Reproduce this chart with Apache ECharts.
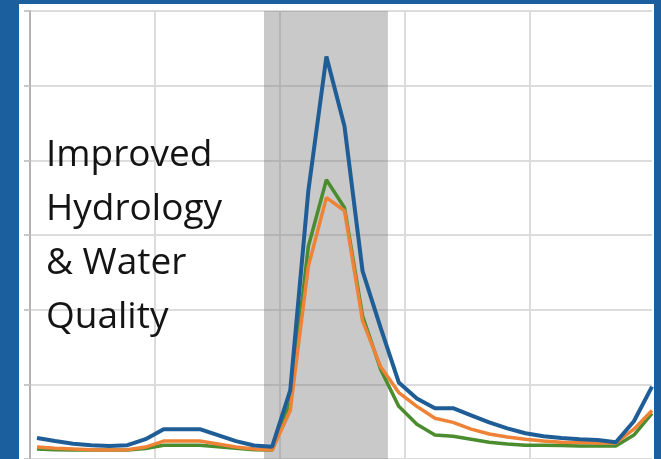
<!DOCTYPE html>
<html>
<head>
<meta charset="utf-8">
<script src="https://cdn.jsdelivr.net/npm/echarts@6/dist/echarts.min.js"></script>
<style>
  html, body { margin: 0; padding: 0; background: #1b5f9e; }
  #chart { width: 661px; height: 459px; }
</style>
</head>
<body>
<div id="chart"></div>
<script>
// Week index of each sample (x), and the three flow series (y)
const weeks = [0,1,2,3,4,5,6,7,8,9,10,11,12,13,14,15,16,17,18,19,20,21,22,23,24,25,26,27,28,29,30,31,32,33,34];
const blueSeries   = [56,48,41,37,35,37,53,80,80,80,64,48,36,33,184,718,1078,891,503,351,205,162,136,136,117,98,82,69,61,56,53,51,45,101,194];
const orangeSeries = [32,29,27,25,24,25,32,48,48,48,40,32,27,24,130,516,700,665,370,247,178,141,109,98,80,67,59,53,48,45,44,43,43,80,130];
const greenSeries  = [27,25,24,24,24,24,28,37,37,37,33,29,25,24,152,569,748,673,383,240,141,93,64,61,53,45,40,37,37,36,35,35,35,64,122];
// Shaded event window (in week units)
const bandStart = 12.55;
const bandEnd = 19.40;
// Y axis range
const yMin = 0, yMax = 1200, yStep = 200;
const label = ['Improved', 'Hydrology', '& Water', 'Quality'];

const chart = echarts.init(document.getElementById('chart'), null, { renderer: 'canvas' });

function pairs(arr) { return weeks.map((w, i) => [w, arr[i]]); }

const option = {
  backgroundColor: '#1b5f9e',
  animation: false,
  graphic: [
    { type: 'rect', z: -10, shape: { x: 19, y: 4, width: 635, height: 470 }, style: { fill: '#ffffff' } },
    {
      type: 'text', z: 100, left: 46, top: 128,
      style: {
        text: label.join('\n'),
        font: '37px "Open Sans"',
        fill: '#141414',
        lineHeight: 54
      }
    }
  ],
  grid: { left: 30, top: 11, width: 622, height: 451, containLabel: false },
  xAxis: [
    {
      type: 'value', min: 0, max: 4.976, interval: 1,
      axisLine: { show: false }, axisTick: { show: false }, axisLabel: { show: false },
      splitLine: { show: true, showMaxLine: false, lineStyle: { color: '#dcdcdc', width: 2 } }
    },
    {
      type: 'value', min: -0.387, max: 34, show: false,
      splitLine: { show: false }
    }
  ],
  yAxis: {
    type: 'value', min: yMin, max: yMax, interval: yStep,
    axisLine: { show: true, lineStyle: { color: '#b4b4b4', width: 2 } },
    axisTick: { show: true, length: 6, lineStyle: { color: '#c8c8c8', width: 2 } },
    axisLabel: { show: false },
    splitLine: { show: true, lineStyle: { color: '#dcdcdc', width: 2 } }
  },
  series: [
    {
      type: 'line', xAxisIndex: 1, data: pairs(greenSeries), showSymbol: false,
      lineStyle: { color: '#4b8c2f', width: 3.5 }, itemStyle: { color: '#4b8c2f' },
      markArea: {
        silent: true,
        itemStyle: { color: 'rgba(120,120,120,0.40)' },
        data: [[{ xAxis: bandStart }, { xAxis: bandEnd }]]
      }
    },
    {
      type: 'line', xAxisIndex: 1, data: pairs(orangeSeries), showSymbol: false,
      lineStyle: { color: '#ee8236', width: 3.5 }, itemStyle: { color: '#ee8236' }
    },
    {
      type: 'line', xAxisIndex: 1, data: pairs(blueSeries), showSymbol: false,
      lineStyle: { color: '#1f5d96', width: 4 }, itemStyle: { color: '#1f5d96' }
    }
  ]
};
chart.setOption(option);
</script>
</body>
</html>
